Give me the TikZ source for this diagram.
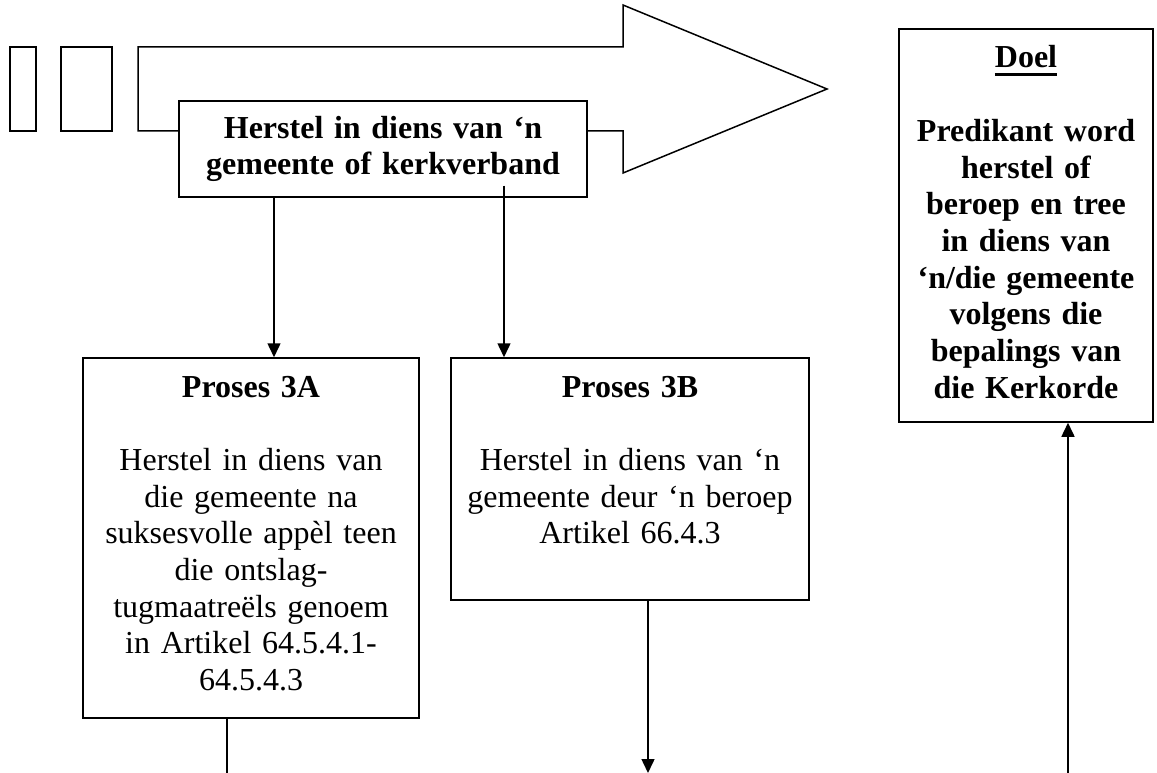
\documentclass[tikz,border=0pt]{standalone}
\usepackage{fontspec}
\setmainfont{Liberation Serif}
\usetikzlibrary{arrows.meta}
\newsavebox{\onderbox}
\newcommand{\onderlyn}[1]{\sbox{\onderbox}{#1}\rlap{\rule[-8pt]{\wd\onderbox}{2.6pt}}\usebox{\onderbox}}

\begin{document}
\begin{tikzpicture}[
        x=1pt, y=-1pt,
        kader/.style = {draw, line width=1.5pt, fill=white, inner sep=0pt},
        teks/.style = {font=\fontsize{32}{36.7}\selectfont, align=center, inner sep=0pt},
        vet/.style = {font=\fontsize{32}{36.7}\selectfont\bfseries, align=center, inner sep=0pt},
        lyn/.style = {line width=1.5pt},
        pyl/.style = {line width=1.5pt, -{Triangle[width=13pt,length=14pt]}}
    ]
    \useasboundingbox (0,0) rectangle (1157,773);

    % groot pyl agter die titel
    \draw[lyn, line join=miter] (138,47) -- (623,47) -- (623,5) -- (827,89)
        -- (623,173) -- (623,131) -- (138,131) -- cycle;
    \node[kader, minimum width=26pt, minimum height=84pt] (blok1) at (23,89) {};
    \node[kader, minimum width=51pt, minimum height=84pt] (blok2) at (86.5,89) {};

    \node[kader, vet, text width=408pt, minimum height=96pt] (titel) at (383,149)
        {Herstel in diens van ‘n\\ gemeente of kerkverband};

    % prosesse
    \node[kader, minimum width=336pt, minimum height=360pt] (proses3a) at (251,538) {};
    \node[teks, text width=330pt, anchor=base] (teks3a) at (251,397)
        {\textbf{Proses 3A}\\[36.7pt]
         Herstel in diens van\\ die gemeente na\\ suksesvolle appèl teen\\
         die ontslag-\\ tugmaatreëls genoem\\ in Artikel 64.5.4.1-\\ 64.5.4.3};

    \node[kader, minimum width=358pt, minimum height=242pt] (proses3b) at (630,479) {};
    \node[teks, text width=350pt, anchor=base] (teks3b) at (630,397)
        {\textbf{Proses 3B}\\[36.7pt]
         Herstel in diens van ‘n\\ gemeente deur ‘n beroep\\ Artikel 66.4.3};

    % doel
    \node[kader, minimum width=254pt, minimum height=393pt] (doel) at (1026,225.5) {};
    \node[vet, text width=250pt, anchor=base] (teksdoel) at (1026,68)
        {\onderlyn{Doel}\\[36.7pt]
         Predikant word\\ herstel of\\ beroep en tree\\ in diens van\\
         ‘n/die gemeente\\ volgens die\\ bepalings van\\ die Kerkorde};

    % verbindings
    \draw[pyl] ([xshift=-109pt]titel.south) -- ([xshift=-109pt]titel.south |- proses3a.north);
    \draw[pyl] ([xshift=121pt,yshift=12pt]titel.south) -- ([xshift=121pt]titel.south |- proses3b.north);

    \coordinate (uit3a) at (227,773);
    \coordinate (uit3b) at (648,773);
    \coordinate (indoel) at (1068,773);
    \draw[lyn] (proses3a.south -| uit3a) -- (uit3a);
    \draw[pyl] (proses3b.south -| uit3b) -- (uit3b);
    \draw[pyl] (indoel) -- (indoel |- doel.south);
\end{tikzpicture}
\end{document}
